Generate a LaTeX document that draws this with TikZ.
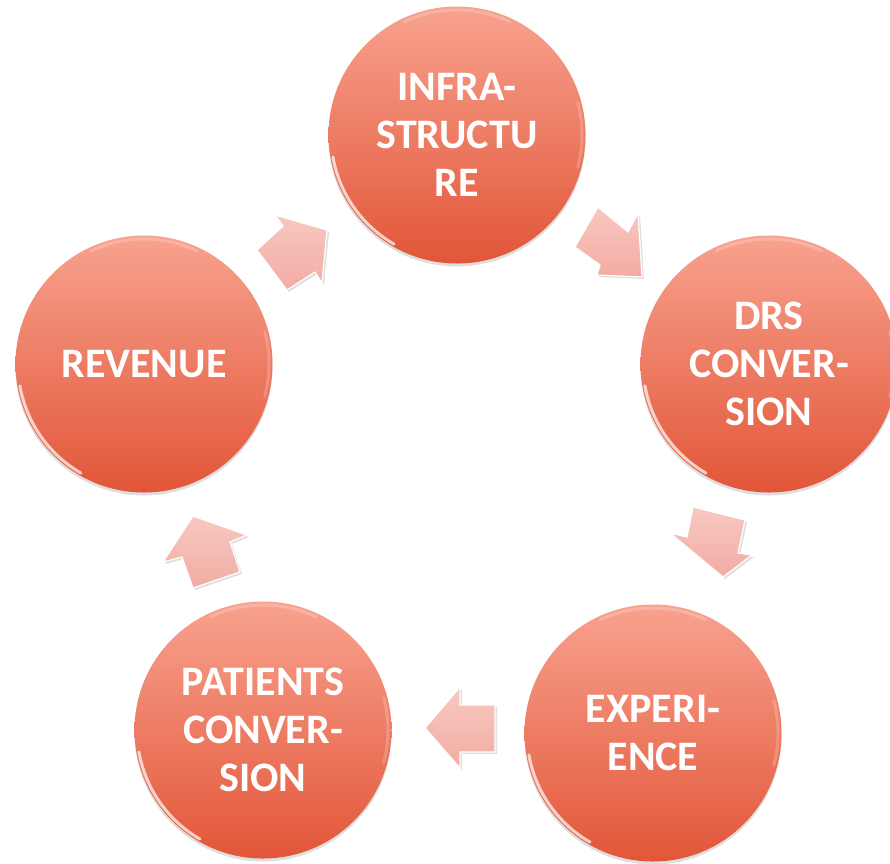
\documentclass[tikz,border=0pt]{standalone}
\usepackage{fontspec}
\setmainfont{Carlito}
\usetikzlibrary{shadows,calc}
\definecolor{ctop}{RGB}{248,162,143}
\definecolor{cbot}{RGB}{226,86,56}
\definecolor{atop}{RGB}{248,200,193}
\definecolor{abot}{RGB}{242,172,163}
\tikzset{
  ball/.style={circle, minimum size=257pt, inner sep=0pt, top color=ctop, bottom color=cbot,
    drop shadow={opacity=0.25, shadow xshift=0pt, shadow yshift=-3pt},
    text=white, font=\fontsize{42}{48}\selectfont\bfseries, align=center},
  blockarrow/.style={top color=atop, bottom color=abot, draw=white, line width=1.2pt, line join=miter,
    drop shadow={opacity=0.25, shadow xshift=2pt, shadow yshift=-2pt}},
  gloss/.style={white, line width=3pt, opacity=0.7, line cap=round},
  softgloss/.style={white, line width=3pt, opacity=0.2, line cap=round}
}
\begin{document}
\begin{tikzpicture}[x=1pt,y=-1pt]
\useasboundingbox (0,0) rectangle (890,863);
\fill[white] (0,0) rectangle (890,863);

\node[ball] (inf) at (457,135) {INFRA-\\STRUCTU\\RE};
\node[ball] (drs) at (769,364) {DRS\\CONVER-\\SION};
\node[ball] (exp) at (653,733) {EXPERI-\\ENCE};
\node[ball] (pat) at (263,730) {PATIENTS\\CONVER-\\SION};
\node[ball] (rev) at (144,364) {REVENUE};

\foreach \c in {inf,drs,exp,pat,rev}{
  \draw[gloss] ($(\c)+(190:126pt)$) arc[start angle=190, end angle=240, radius=126pt];
  \draw[softgloss] ($(\c)+(65:125pt)$) arc[start angle=65, end angle=115, radius=125pt];
  \draw[softgloss] ($(\c)+(-15:125pt)$) arc[start angle=-15, end angle=15, radius=125pt];
}

% block arrows
\path[blockarrow] (257,250) -- (283,226) -- (275,215) -- (327,230) -- (322,283) -- (315,272) -- (287,290) -- cycle;
\path[blockarrow] (598,207) -- (628,232) -- (638,213) -- (642,277) -- (597,275) -- (600,265) -- (575,247) -- cycle;
\path[blockarrow] (693,507) -- (745,520) -- (738,553) -- (752,555) -- (723,577) -- (670,533) -- (687,537) -- cycle;
\path[blockarrow] (425,728) -- (460,687) -- (460,705) -- (495,705) -- (495,752) -- (460,752) -- (460,768) -- cycle;
\path[blockarrow] (193,516) -- (247,535) -- (230,542) -- (240,572) -- (193,588) -- (182,557) -- (163,562) -- cycle;
\end{tikzpicture}
\end{document}
